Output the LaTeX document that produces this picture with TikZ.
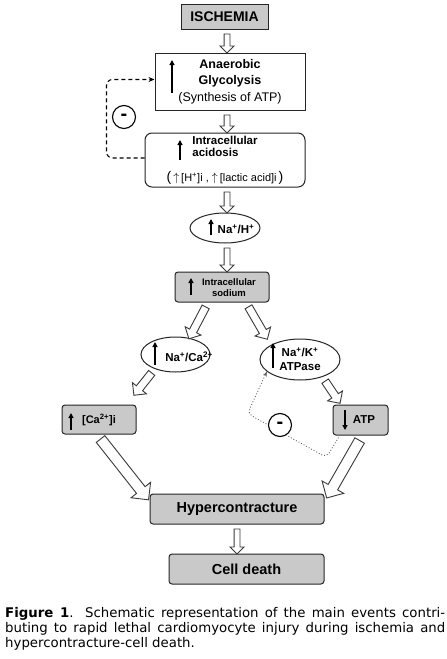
\documentclass[tikz,border=0pt]{standalone}
\usepackage{fontspec}
\setmainfont{Liberation Sans}
\newfontfamily\capfont{DejaVu Sans}
\usetikzlibrary{arrows.meta, calc, shapes.geometric, shapes.arrows}
\definecolor{BoxGray}{HTML}{C9C9C9}
\definecolor{BoxLine}{HTML}{262626}
\definecolor{ArrLine}{HTML}{3A3A3A}

\tikzset{
  hollow/.style={single arrow, draw=ArrLine, fill=white, line width=0.9pt, inner xsep=0pt},
  smallarr/.style={hollow, inner ysep=2.5pt, single arrow head extend=4pt},
  midarr/.style={hollow, inner ysep=3.5pt, single arrow head extend=5pt},
  bigarr/.style={hollow, inner ysep=5pt, single arrow head extend=7pt},
  whitebox/.style={draw=BoxLine, fill=white, line width=1pt, inner sep=0pt},
  graybox/.style={whitebox, fill=BoxGray, rounded corners=3pt},
  oval/.style={ellipse, draw=BoxLine, fill=white, line width=1pt, inner sep=0pt},
  uparr/.style={line width=1.2pt, -{Triangle[length=5pt,width=5pt]}},
  minus/.style={circle, draw=black, fill=white, line width=1.1pt, minimum size=23pt, inner sep=0pt, font=\bfseries\fontsize{20}{20}\selectfont},
  dashfb/.style={line width=1.1pt, dash pattern=on 4pt off 3pt, rounded corners=6pt, -{Stealth[length=6pt,width=5pt]}},
  dotfb/.style={draw=black!60, line width=0.9pt, dotted, rounded corners=5pt, -{Stealth[length=5pt,width=4pt]}},
}

% block arrow between two points
\newcommand\hollowarr[3][smallarr]{%
  \path let \p1=($(#2)!3pt!(#3)$), \p2=($(#3)!1pt!(#2)$),
    \n1={veclen(\x2-\x1,\y2-\y1)}, \n2={atan2(\y2-\y1,\x2-\x1)}
    in node[#1, minimum height=\n1, rotate=\n2] at ($(\p1)!.5!(\p2)$) {};}

\begin{document}
\begin{tikzpicture}[x=1pt, y=-1pt]
  \useasboundingbox (0,0) rectangle (447,659);
  \fill[white] (0,0) rectangle (447,659);
  \coordinate (axis) at (227,0);

  \node[whitebox, fill=BoxGray, minimum width=87, minimum height=25, font=\bfseries\fontsize{14}{16}\selectfont] (isch) at (224.5,16.5) {ISCHEMIA};
  \node[whitebox, minimum width=150, minimum height=57, align=center, font=\fontsize{12.5}{16.5}\selectfont] (glyc) at (230,81.5) {
    \textbf{Anaerobic}\\
    \textbf{Glycolysis}\\
    (Synthesis of ATP)
  };
  \node[whitebox, rounded corners=7pt, minimum width=160, minimum height=54, align=center, font=\fontsize{11.5}{12}\selectfont] (acid) at (225,160) {
    \begin{tabular}[b]{@{}l@{}}\bfseries Intracellular\\\bfseries acidosis\end{tabular}\\[10pt]
    {\fontsize{14}{14}\selectfont(}\,$\big\uparrow$\,{\fontsize{11}{12}\selectfont[H\textsuperscript{+}]i ,\ }$\big\uparrow$\,{\fontsize{11}{12}\selectfont[lactic acid]i}\,{\fontsize{14}{14}\selectfont)}
  };
  \node[oval, minimum width=70, minimum height=30] (nah) at (225,228) {};
  \node[inner sep=0pt, font=\bfseries\fontsize{11.5}{13}\selectfont] (nahtxt) at (236,229) {Na\textsuperscript{+}/H\textsuperscript{+}};
  \node[graybox, minimum width=94, minimum height=30] (sodium) at (222,287) {};
  \node[inner sep=0pt, align=center, font=\bfseries\fontsize{9.5}{11}\selectfont] (sodiumtxt) at (229,287.5) {Intracellular\\sodium};
  \node[oval, minimum width=69, minimum height=35] (naca) at (175.5,354.5) {};
  \node[inner sep=0pt, font=\bfseries\fontsize{11.5}{13}\selectfont] (nacatxt) at (189,357) {Na\textsuperscript{+}/Ca\textsuperscript{2+}};
  \node[oval, minimum width=80, minimum height=41, align=center, font=\bfseries\fontsize{11.5}{14}\selectfont] (nak) at (300,359.5) {Na\textsuperscript{+}/K\textsuperscript{+}\\ATPase};
  \node[graybox, minimum width=74, minimum height=29, font=\bfseries\fontsize{11}{13}\selectfont] (ca) at (99,419.5) {[Ca\textsuperscript{2+}]i};
  \node[graybox, minimum width=55, minimum height=30, font=\bfseries\fontsize{11.5}{13}\selectfont] (atp) at (360.5,420) {\hspace*{7pt}ATP};
  \node[graybox, minimum width=174, minimum height=30, font=\bfseries\fontsize{14.5}{16}\selectfont] (hyper) at (237,509) {Hypercontracture};
  \node[graybox, minimum width=155, minimum height=30, font=\bfseries\fontsize{14.5}{16}\selectfont] (cell) at (246.5,569) {Cell death};

  % up / down marks inside the boxes
  \draw[uparr] ($(glyc)+(-58,11.5)$) -- ++(0,-33);
  \draw[uparr] ($(acid)+(-45,0)$) -- ++(0,-20);
  \draw[uparr] ($(nah)+(-14,7)$) -- ++(0,-16);
  \draw[uparr] ($(sodium)+(-31,8)$) -- ++(0,-17);
  \draw[uparr] ($(naca)+(-20.5,10.5)$) -- ++(0,-23);
  \draw[uparr] ($(nak)+(-27,8.5)$) -- ++(0,-25);
  \draw[uparr] ($(ca)+(-28,10.5)$) -- ++(0,-17);
  \draw[uparr] ($(atp)+(-15.5,-10)$) -- ++(0,20);

  % main flow
  \hollowarr{axis |- isch.south}{axis |- glyc.north}
  \hollowarr{axis |- glyc.south}{axis |- acid.north}
  \hollowarr{axis |- acid.south}{axis |- nah.north}
  \hollowarr{axis |- nah.south}{axis |- sodium.north}
  \hollowarr[midarr]{[xshift=-14pt]sodium.south}{naca.50}
  \hollowarr[midarr]{[xshift=24pt]sodium.south}{[yshift=9pt]nak.160}
  \hollowarr[midarr]{naca.215}{[xshift=-2pt,yshift=10pt]ca.north east}
  \hollowarr[midarr]{nak.322}{[xshift=7pt,yshift=2pt]atp.north west}
  \hollowarr[bigarr]{[xshift=-2pt]ca.south}{[xshift=-2pt,yshift=-5pt]hyper.north west}
  \hollowarr[bigarr]{[xshift=2pt]atp.south}{[xshift=3pt,yshift=-3pt]hyper.north east}
  \hollowarr{hyper.south}{hyper.south |- cell.north}

  % feedback loops
  \draw[dashfb] ([yshift=2pt]acid.west) -- ++(-38,0) |- ([yshift=2pt]glyc.west);
  \node[minus] (inhibA) at (124,117) {-};
  \draw[dotfb] ([xshift=6pt,yshift=-2pt]atp.south west) -- ++(-12,20) -- ++(-79,-44) -- (nak.200);
  \node[minus] (inhibB) at (280,425) {-};

  \node[anchor=north west, inner sep=0pt, text width=440pt, align=justify, font=\capfont\fontsize{13.3}{15}\selectfont] (caption) at (5,607) {\textbf{Figure 1}. Schematic representation of the main events contri-\linebreak buting to rapid lethal cardiomyocyte injury during ischemia and\linebreak hypercontracture-cell death.};
\end{tikzpicture}
\end{document}
